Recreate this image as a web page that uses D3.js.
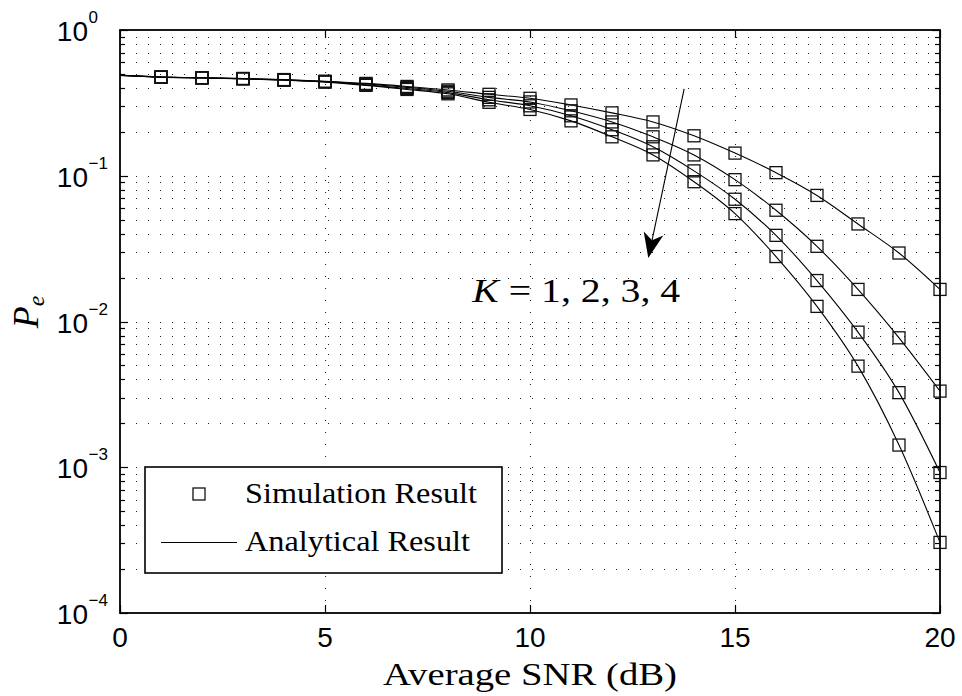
<!DOCTYPE html>
<html>
<head>
<meta charset="utf-8">
<script src="https://cdn.jsdelivr.net/npm/d3@7"></script>
<style>
  html, body { margin: 0; padding: 0; background: #fff; }
  svg { display: block; }
</style>
</head>
<body>
<svg id="chart" width="962" height="696"></svg>
<script>
// ---------------- data ----------------
const snrSim = [1,2,3,4,5,6,7,8,9,10,11,12,13,14,15,16,17,18,19,20];
const snrAna = [0,1,2,3,4,5,6,7,8,9,10,11,12,13,14,15,16,17,18,19,20];

const simK1 = [0.476,0.470,0.465,0.457,0.445,0.430,0.410,0.388,0.362,0.340,0.306,0.270,0.234,0.188,0.143,0.105,0.0733,0.0467,0.0295,0.0166];
const simK2 = [0.476,0.470,0.464,0.455,0.443,0.426,0.404,0.380,0.345,0.321,0.279,0.234,0.185,0.139,0.094,0.058,0.0328,0.0166,0.00773,0.00333];
const simK3 = [0.475,0.469,0.463,0.454,0.441,0.421,0.397,0.372,0.332,0.302,0.258,0.207,0.158,0.108,0.069,0.039,0.0191,0.00845,0.00325,0.00092];
const simK4 = [0.475,0.469,0.462,0.452,0.439,0.417,0.391,0.365,0.319,0.285,0.238,0.185,0.139,0.091,0.055,0.0279,0.0127,0.00494,0.00142,0.000305];

const anaK1 = [0.490,0.476,0.470,0.465,0.457,0.445,0.430,0.410,0.388,0.362,0.340,0.306,0.270,0.234,0.188,0.143,0.105,0.0733,0.0467,0.0295,0.0166];
const anaK2 = [0.489,0.476,0.470,0.464,0.455,0.443,0.426,0.404,0.380,0.345,0.321,0.279,0.234,0.185,0.139,0.094,0.058,0.0328,0.0166,0.00773,0.00333];
const anaK3 = [0.488,0.475,0.469,0.463,0.454,0.441,0.421,0.397,0.372,0.332,0.302,0.258,0.207,0.158,0.108,0.069,0.039,0.0191,0.00845,0.00325,0.00092];
const anaK4 = [0.487,0.475,0.469,0.462,0.452,0.439,0.417,0.391,0.365,0.319,0.285,0.238,0.185,0.139,0.091,0.055,0.0279,0.0127,0.00494,0.00142,0.000305];

const xTicks = [0,5,10,15,20];
const yMajorExp = [0,-1,-2,-3,-4];
const legendLabels = ["Simulation Result","Analytical Result"];
const annotationText = "K = 1, 2, 3, 4";
// arrow annotation in data coords: [snr, Pe]
const arrowTail = [13.76, 0.394];
const arrowTip = [12.885, 0.0273];
const textAnchorPt = [8.59, 0.0137];

// ---------------- layout ----------------
const svg = d3.select("#chart");
const L = 120, R = 940, T = 30, B = 613;
const x = d3.scaleLinear().domain([0,20]).range([L,R]);
const y = d3.scaleLog().domain([1e-4,1]).range([B,T]);

svg.append("rect").attr("width",962).attr("height",696).attr("fill","#fff");

const yAll = [];
for (let e = -4; e < 0; e++) for (let m = 1; m <= 9; m++) yAll.push(m * Math.pow(10,e));
yAll.push(1);

// grid
const grid = svg.append("g").attr("stroke","#222").attr("stroke-width",1)
  .attr("stroke-dasharray","1,11").attr("fill","none");
yAll.forEach(v => {
  if (v >= 1 || v <= 1e-4) return;
  grid.append("line").attr("x1",L+4).attr("x2",R)
    .attr("y1",Math.round(y(v))+0.5).attr("y2",Math.round(y(v))+0.5);
});
xTicks.slice(1,-1).forEach(v => {
  grid.append("line").attr("y1",B).attr("y2",T)
    .attr("x1",Math.round(x(v))+0.5).attr("x2",Math.round(x(v))+0.5);
});

// ticks (inward)
const ticks = svg.append("g").attr("stroke","#000").attr("stroke-width",1.2);
yAll.forEach(v => {
  const isMajor = Math.abs(Math.log10(v) - Math.round(Math.log10(v))) < 1e-9;
  const len = isMajor ? 8 : 5;
  const yy = Math.round(y(v))+0.5;
  ticks.append("line").attr("x1",L).attr("x2",L+len).attr("y1",yy).attr("y2",yy);
  ticks.append("line").attr("x1",R).attr("x2",R-len).attr("y1",yy).attr("y2",yy);
});
xTicks.forEach(v => {
  const xx = Math.round(x(v))+0.5;
  ticks.append("line").attr("x1",xx).attr("x2",xx).attr("y1",B).attr("y2",B-8);
  ticks.append("line").attr("x1",xx).attr("x2",xx).attr("y1",T).attr("y2",T+8);
});

// curves
const series = [
  {sim: simK1, ana: anaK1},
  {sim: simK2, ana: anaK2},
  {sim: simK3, ana: anaK3},
  {sim: simK4, ana: anaK4}
];
const line = d3.line().x(d => x(d[0])).y(d => y(d[1])).curve(d3.curveMonotoneX);
const plot = svg.append("g");
series.forEach(s => {
  plot.append("path").datum(snrAna.map((v,i) => [v, s.ana[i]]))
    .attr("d", line).attr("fill","none").attr("stroke","#000").attr("stroke-width",1.1);
});
const sq = 12;
series.forEach(s => {
  plot.selectAll(null).data(snrSim.map((v,i) => [v, s.sim[i]])).enter()
    .append("rect")
    .attr("x", d => x(d[0]) - sq/2).attr("y", d => y(d[1]) - sq/2)
    .attr("width", sq).attr("height", sq)
    .attr("fill","none").attr("stroke","#111").attr("stroke-width",1.3);
});

// axes frame
svg.append("rect").attr("x",L).attr("y",T).attr("width",R-L).attr("height",B-T)
  .attr("fill","none").attr("stroke","#000").attr("stroke-width",1.8);

// tick labels
const tickFont = "'Liberation Sans', Arial, Helvetica, sans-serif";
xTicks.forEach(v => {
  svg.append("text").attr("x", x(v)).attr("y", 647).attr("text-anchor","middle")
    .attr("font-family",tickFont).attr("font-size",28).text(v);
});
yMajorExp.forEach(e => {
  const yy = y(Math.pow(10,e));
  svg.append("text").attr("x", 88).attr("y", yy + 11).attr("text-anchor","end")
    .attr("font-family",tickFont).attr("font-size",28).text("10");
  svg.append("text").attr("x", 88.5).attr("y", yy - 7).attr("text-anchor","start")
    .attr("font-family",tickFont).attr("font-size",17)
    .text(e === 0 ? "0" : "\u2212" + (-e));
});

// axis labels
const serif = "'Liberation Serif', 'Times New Roman', serif";
svg.append("text").attr("x", (L+R)/2).attr("y", 685).attr("text-anchor","middle")
  .attr("font-family",serif).attr("font-size",32)
  .attr("textLength",294).attr("lengthAdjust","spacingAndGlyphs")
  .text("Average SNR (dB)");
const yl = svg.append("text").attr("transform","translate(38,312) rotate(-90)")
  .attr("text-anchor","middle").attr("font-family",serif).attr("font-size",36);
yl.append("tspan").attr("font-style","italic").text("P");
yl.append("tspan").attr("font-style","italic").attr("font-size",24).attr("dy",6).text("e");

// annotation text
const ann = svg.append("text").attr("x", x(textAnchorPt[0])).attr("y", y(textAnchorPt[1]))
  .attr("font-family",serif).attr("font-size",34)
  .attr("textLength",208).attr("lengthAdjust","spacingAndGlyphs");
ann.append("tspan").attr("font-style","italic").text("K");
ann.append("tspan").text(annotationText.slice(1));

// arrow
const tx = x(arrowTail[0]), ty = y(arrowTail[1]);
const hx = x(arrowTip[0]), hy = y(arrowTip[1]);
const ang = Math.atan2(hy - ty, hx - tx);
const headLen = 25, headW = 10, notch = 7;
const ux = Math.cos(ang), uy = Math.sin(ang), px = -uy, py = ux;
const bx = hx - ux*headLen, by = hy - uy*headLen;
svg.append("line").attr("x1",tx).attr("y1",ty).attr("x2",bx + ux*notch).attr("y2",by + uy*notch)
  .attr("stroke","#000").attr("stroke-width",1.1);
svg.append("path")
  .attr("d", `M${hx},${hy} L${bx + px*headW},${by + py*headW} L${bx + ux*notch},${by + uy*notch} L${bx - px*headW},${by - py*headW} Z`)
  .attr("fill","#000");

// legend
const lg = svg.append("g");
lg.append("rect").attr("x",145).attr("y",467).attr("width",357).attr("height",106)
  .attr("fill","#fff").attr("stroke","#000").attr("stroke-width",1.6);
lg.append("rect").attr("x",193).attr("y",488).attr("width",12).attr("height",12)
  .attr("fill","none").attr("stroke","#111").attr("stroke-width",1.3);
lg.append("line").attr("x1",161).attr("x2",237).attr("y1",542.5).attr("y2",542.5)
  .attr("stroke","#000").attr("stroke-width",1.1);
lg.append("text").attr("x",245).attr("y",503).attr("font-family",serif).attr("font-size",29)
  .attr("textLength",232).attr("lengthAdjust","spacingAndGlyphs").text(legendLabels[0]);
lg.append("text").attr("x",245).attr("y",551).attr("font-family",serif).attr("font-size",29)
  .attr("textLength",225).attr("lengthAdjust","spacingAndGlyphs").text(legendLabels[1]);
</script>
</body>
</html>
